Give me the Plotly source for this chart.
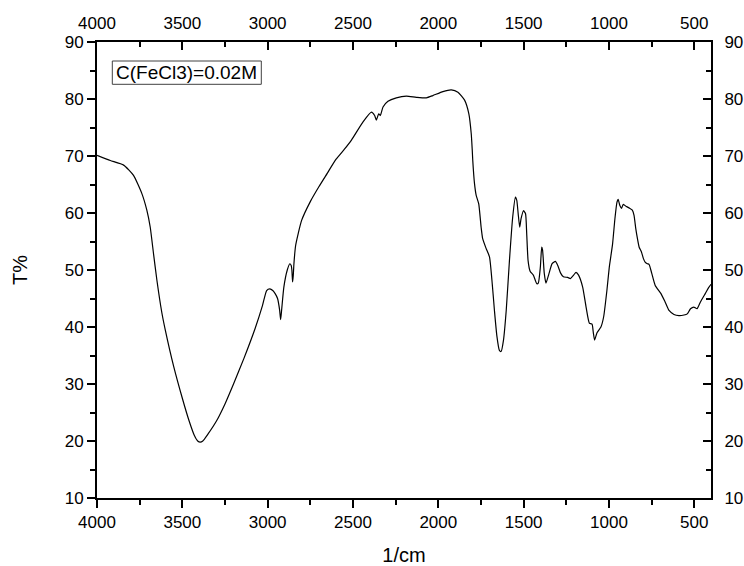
import plotly.graph_objects as go

wavenumber = [4000, 3922, 3844, 3786, 3737, 3708, 3688, 3669, 3649, 3620, 3600, 3550, 3500, 3460, 3430,
              3410, 3395, 3380, 3350, 3300, 3250, 3200, 3139, 3074, 3030, 3006, 2987, 2970, 2957, 2942,
              2930, 2924, 2918, 2905, 2885, 2870, 2862, 2858, 2854, 2850, 2846, 2836, 2821, 2801, 2750,
              2700, 2650, 2600, 2550, 2509, 2441, 2392, 2373, 2363, 2349, 2340, 2324, 2295, 2246, 2187,
              2129, 2070, 2032, 1973, 1924, 1885, 1846, 1821, 1807, 1801, 1798, 1788, 1778, 1763, 1749,
              1740, 1720, 1700, 1684, 1671, 1657, 1642, 1632, 1618, 1602, 1583, 1564, 1548, 1540, 1532,
              1523, 1515, 1501, 1489, 1482, 1474, 1462, 1443, 1423, 1414, 1402, 1394, 1389, 1379, 1369,
              1353, 1333, 1314, 1300, 1284, 1267, 1242, 1226, 1207, 1193, 1178, 1154, 1134, 1115, 1099,
              1092, 1084, 1070, 1047, 1031, 1012, 998, 979, 965, 953, 946, 936, 926, 917, 901,
              882, 863, 853, 843, 833, 823, 810, 798, 788, 775, 765, 749, 729, 696, 671,
              648, 619, 590, 560, 541, 522, 503, 484, 464, 435, 416, 402]
transmittance = [70.1, 69.2, 68.4, 66.6, 63.4, 60.5, 57.5, 52.9, 48.2, 42.5, 39.5, 33.0, 27.5, 23.5, 21.0,
                 20.0, 19.8, 20.0, 21.2, 23.5, 26.5, 30.0, 34.5, 39.7, 43.8, 46.4, 46.7, 46.4, 45.9, 45.0,
                 43.0, 41.3, 43.0, 47.0, 50.0, 51.1, 50.8, 50.0, 47.9, 49.0, 51.1, 54.3, 56.4, 58.7, 62.0,
                 64.6, 67.0, 69.4, 71.2, 72.8, 76.0, 77.7, 77.1, 76.3, 77.4, 77.1, 78.6, 79.6, 80.2, 80.5,
                 80.3, 80.2, 80.6, 81.3, 81.6, 81.2, 79.8, 77.4, 73.9, 71.0, 69.2, 65.2, 63.1, 61.6, 57.5,
                 55.5, 53.8, 52.3, 47.6, 42.9, 38.5, 35.9, 35.7, 37.7, 42.9, 51.7, 59.3, 62.8, 62.2, 59.9,
                 57.5, 59.0, 60.4, 59.9, 56.4, 51.7, 49.8, 49.1, 47.6, 47.7, 50.5, 54.0, 53.5, 49.4, 47.7,
                 49.2, 51.1, 51.5, 50.8, 49.5, 48.8, 48.7, 48.5, 49.1, 49.6, 49.1, 47.0, 43.5, 40.7, 40.5,
                 39.1, 37.7, 39.0, 40.0, 41.8, 46.4, 50.5, 54.5, 59.0, 61.9, 62.4, 61.3, 60.8, 61.5, 61.2,
                 60.9, 60.5, 59.6, 57.3, 55.5, 54.0, 53.2, 52.0, 51.4, 51.1, 51.0, 49.4, 47.3, 45.9, 44.4,
                 42.9, 42.2, 42.0, 42.1, 42.3, 43.2, 43.5, 43.2, 44.4, 45.9, 46.9, 47.5]

x_ticks = [4000, 3500, 3000, 2500, 2000, 1500, 1000, 500]
y_ticks = [10, 20, 30, 40, 50, 60, 70, 80, 90]
x_range = [4000, 402]
y_range = [10, 90]
legend_text = "C(FeCl3)=0.02M"
x_title = "1/cm"
y_title = "T%"

FONT = "Arial, Liberation Sans, sans-serif"

fig = go.Figure()
fig.add_trace(go.Scatter(x=wavenumber, y=transmittance, mode="lines",
                         line=dict(color="black", width=1.2, shape="spline", smoothing=0.5),
                         showlegend=False, hoverinfo="skip"))
# invisible trace to anchor the mirrored top/right axes
fig.add_trace(go.Scatter(x=wavenumber, y=transmittance, mode="lines", xaxis="x2", yaxis="y2",
                         opacity=0, showlegend=False, hoverinfo="skip"))

common = dict(showline=True, linecolor="black", linewidth=2, showgrid=False, zeroline=False,
              tickfont=dict(family=FONT, size=17, color="black"), tickcolor="black",
              tickwidth=2, ticklen=8, automargin=False)

fig.update_layout(
    width=744, height=566,
    margin=dict(l=97, r=33, t=42, b=68, pad=0),
    paper_bgcolor="white", plot_bgcolor="white",
    font=dict(family=FONT, color="black"),
    xaxis=dict(range=x_range, tickvals=x_ticks, ticks="outside",
               minor=dict(dtick=250, tick0=0, ticklen=5, tickwidth=2, tickcolor="black", ticks="outside"),
               title=dict(text=x_title, font=dict(family=FONT, size=20, color="black"), standoff=17),
               **common),
    xaxis2=dict(range=x_range, tickvals=x_ticks, ticks="inside", side="top", overlaying="x",
                minor=dict(dtick=250, tick0=0, ticklen=5, tickwidth=2, tickcolor="black", ticks="inside"),
                ticklabelstandoff=4, **common),
    yaxis=dict(range=y_range, tickvals=y_ticks, ticks="outside",
               minor=dict(dtick=5, tick0=0, ticklen=5, tickwidth=2, tickcolor="black", ticks="outside"),
               title=dict(text=y_title, font=dict(family=FONT, size=20, color="black"), standoff=32),
               **common),
    yaxis2=dict(range=y_range, tickvals=y_ticks, ticks="inside", side="right", overlaying="y",
                minor=dict(dtick=5, tick0=0, ticklen=5, tickwidth=2, tickcolor="black", ticks="inside"),
                ticklabelstandoff=8, **common),
)

# legend-like label box
fig.add_shape(type="rect", xref="paper", yref="paper",
              x0=(112.3 - 97) / 614, x1=(261.3 - 97) / 614,
              y0=(498 - 84.3) / 456, y1=(498 - 61) / 456,
              line=dict(color="#404040", width=1), fillcolor="white")
fig.add_annotation(xref="paper", yref="paper", x=(115 - 97) / 614, y=(498 - 72.7) / 456,
                   xanchor="left", yanchor="middle", text=legend_text, showarrow=False,
                   font=dict(family=FONT, size=19, color="black"), borderpad=0)

fig.write_html("out.html", config={"displayModeBar": False},
               post_script="document.body.style.margin='0';document.body.style.padding='0';")
